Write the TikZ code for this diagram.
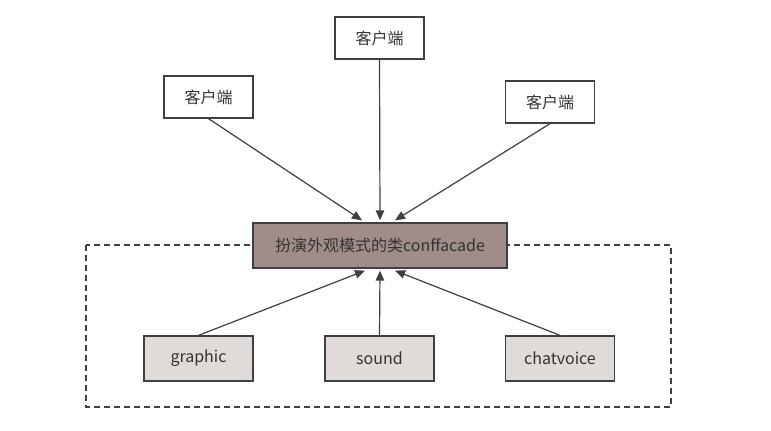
\documentclass[tikz,border=0pt]{standalone}
\usepackage{fontspec}
\setmainfont{Noto Sans CJK SC}
\usetikzlibrary{arrows.meta}
\definecolor{linegray}{HTML}{404040}
\definecolor{textgray}{HTML}{333333}
\definecolor{facadefill}{HTML}{A08C89}
\definecolor{subfill}{HTML}{E0DAD8}
\tikzset{
	box/.style={draw=linegray,line width=1.3pt,inner sep=0pt,text=textgray,
		font=\fontsize{16}{19}\selectfont},
	client/.style={box,fill=white,minimum width=89pt,minimum height=42pt},
	facade/.style={box,fill=facadefill,minimum width=254pt,minimum height=45pt},
	subsys/.style={box,fill=subfill,minimum width=109pt,minimum height=45pt},
	link/.style={draw=linegray,line width=1.2pt,-{Triangle[length=10pt,width=8.5pt]}}
}
\begin{document}
\begin{tikzpicture}[x=1pt,y=-1pt]
	\useasboundingbox[fill=white] (0,0) rectangle (771,431);
	% subsystem frame
	\draw[linegray,line width=1.1pt,dash pattern=on 6pt off 4pt] (86,245) rectangle (671,407);
	% clients
	\node[client] (lc) at (208.5,97) {客户端};
	\node[client] (mc) at (379.5,38) {客户端};
	\node[client] (rc) at (550,102) {客户端};
	% facade
	\node[facade] (fac) at (380,245.5) {扮演外观模式的类conffacade};
	% subsystems
	\node[subsys] (gr) at (198.5,358.5) {graphic};
	\node[subsys] (so) at (379.5,358.5) {sound};
	\node[subsys] (cv) at (560,358.5) {chatvoice};
	% clients -> facade
	\draw[link] (lc.south) -- ([xshift=-18pt,yshift=2pt]fac.north);
	\draw[link] (mc.south) -- ([yshift=2pt]fac.north);
	\draw[link] (rc.south) -- ([xshift=15pt,yshift=2pt]fac.north);
	% subsystems -> facade
	\draw[link] (gr.north) -- ([xshift=-15pt,yshift=-2pt]fac.south);
	\draw[link] (so.north) -- ([yshift=-2pt]fac.south);
	\draw[link] (cv.north) -- ([xshift=15pt,yshift=-2pt]fac.south);
\end{tikzpicture}
\end{document}
